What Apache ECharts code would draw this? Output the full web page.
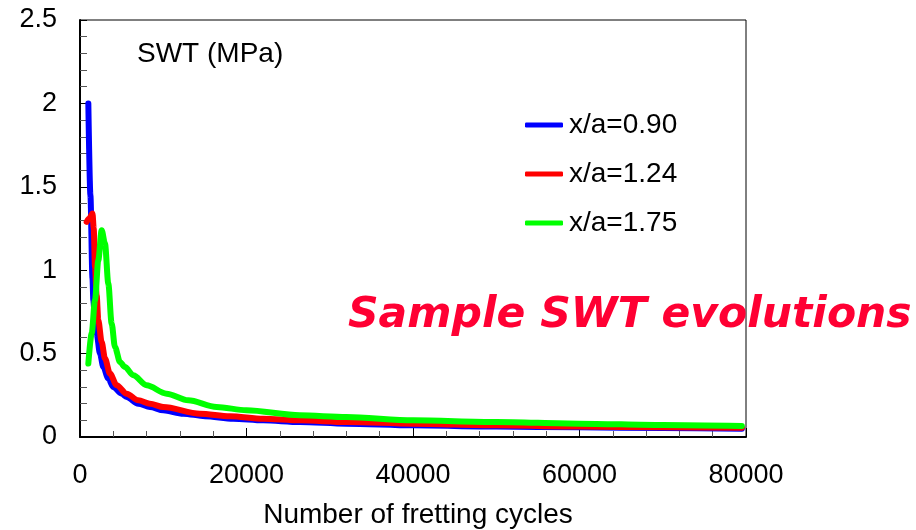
<!DOCTYPE html>
<html>
<head>
<meta charset="utf-8">
<script src="https://cdn.jsdelivr.net/npm/echarts@6/dist/echarts.min.js"></script>
<style>html,body{margin:0;padding:0;background:#fff}#c{width:916px;height:530px}</style>
</head>
<body>
<div id="c"></div>
<script>
const seriesNames = ['x/a=0.90', 'x/a=1.24', 'x/a=1.75'];
const xTicks = [0, 20000, 40000, 60000, 80000];
const yTicks = [0, 0.5, 1, 1.5, 2, 2.5];

const blue = [[1000,2.0],[1250,1.45],[1500,0.95],[1600,0.82],[1800,0.70],[2000,0.62],[2400,0.50],[2800,0.42],[3400,0.35],[4000,0.30],[5000,0.26],[5600,0.24],[7000,0.20],[8400,0.18],[10000,0.16],[12400,0.14],[15000,0.125],[18400,0.11],[22000,0.10],[26400,0.09],[32000,0.08],[40000,0.07],[50000,0.063],[60000,0.058],[70000,0.054],[79500,0.05]];
const red = [[800,1.29],[1100,1.31],[1500,1.34],[1650,1.25],[1800,1.02],[2000,0.85],[2200,0.70],[2600,0.57],[3000,0.47],[3600,0.38],[4400,0.31],[5600,0.26],[7000,0.22],[8400,0.20],[10000,0.18],[14400,0.14],[18000,0.125],[22000,0.11],[26400,0.10],[32000,0.09],[40000,0.08],[50000,0.07],[60000,0.063],[70000,0.058],[79500,0.055]];
const green = [[1000,0.44],[1400,0.62],[1800,0.82],[2200,1.06],[2600,1.24],[3000,1.16],[3400,0.92],[3800,0.68],[4200,0.54],[4800,0.45],[5400,0.42],[6400,0.37],[8000,0.31],[10400,0.26],[13000,0.22],[16400,0.18],[20000,0.16],[26400,0.13],[32000,0.12],[40000,0.10],[50000,0.09],[60000,0.08],[70000,0.072],[79500,0.066]];

const colors = ['#0000ff', '#ff0000', '#00ff00'];
const FONT = '"Liberation Sans", Arial, sans-serif';

const chart = echarts.init(document.getElementById('c'), null, {renderer: 'canvas'});
const mk = (name, data, color) => ({
  name, type: 'line', data, symbol: 'none', smooth: 0.3, smoothMonotone: 'x',
  lineStyle: {color, width: 6, cap: 'round', join: 'round'}, itemStyle: {color}
});
chart.setOption({
  animation: false,
  backgroundColor: '#fff',
  grid: {left: 80, top: 20, right: 170, bottom: 93, show: true, borderColor: '#000', borderWidth: 1},
  xAxis: {
    type: 'value', min: xTicks[0], max: xTicks[xTicks.length - 1], interval: 20000,
    axisLine: {show: true, lineStyle: {color: '#000', width: 2}},
    axisTick: {show: true, inside: true, length: 9, lineStyle: {color: '#000', width: 1}},
    minorTick: {show: true, splitNumber: 5, length: 6, lineStyle: {color: '#555', width: 1}},
    splitLine: {show: false},
    axisLabel: {fontFamily: FONT, fontSize: 27, color: '#000', margin: 25, formatter: v => String(v)}
  },
  yAxis: {
    type: 'value', min: yTicks[0], max: yTicks[yTicks.length - 1], interval: 0.5,
    axisLine: {show: true, lineStyle: {color: '#000', width: 2}},
    axisTick: {show: true, inside: true, length: 7, lineStyle: {color: '#000', width: 1}},
    minorTick: {show: true, splitNumber: 5, length: 7, lineStyle: {color: '#555', width: 1}},
    splitLine: {show: false},
    axisLabel: {fontFamily: FONT, fontSize: 27, color: '#000', margin: 23}
  },
  legend: {
    orient: 'vertical', left: 525, top: 110, padding: 0, itemWidth: 38, itemHeight: 5, itemGap: 19,
    icon: 'roundRect',
    textStyle: {fontFamily: FONT, fontSize: 28, color: '#000', lineHeight: 30, padding: [0,0,0,1]},
    data: seriesNames
  },
  series: [mk(seriesNames[0], blue, colors[0]), mk(seriesNames[1], red, colors[1]), mk(seriesNames[2], green, colors[2])],
  graphic: [
    {type: 'text', left: 137, top: 40, style: {text: 'SWT (MPa)', font: '28px ' + FONT, fill: '#000'}},
    {type: 'text', x: 418, y: 515, style: {text: 'Number of fretting cycles', font: '28px ' + FONT, fill: '#000', align: 'center', verticalAlign: 'middle'}},
    {type: 'text', x: 348, y: 316, z: 100, style: {text: 'Sample SWT evolutions', font: 'italic bold 42.5px "DejaVu Sans", Verdana, sans-serif', fill: '#ff0033', align: 'left', verticalAlign: 'middle'}}
  ]
});
</script>
</body>
</html>
